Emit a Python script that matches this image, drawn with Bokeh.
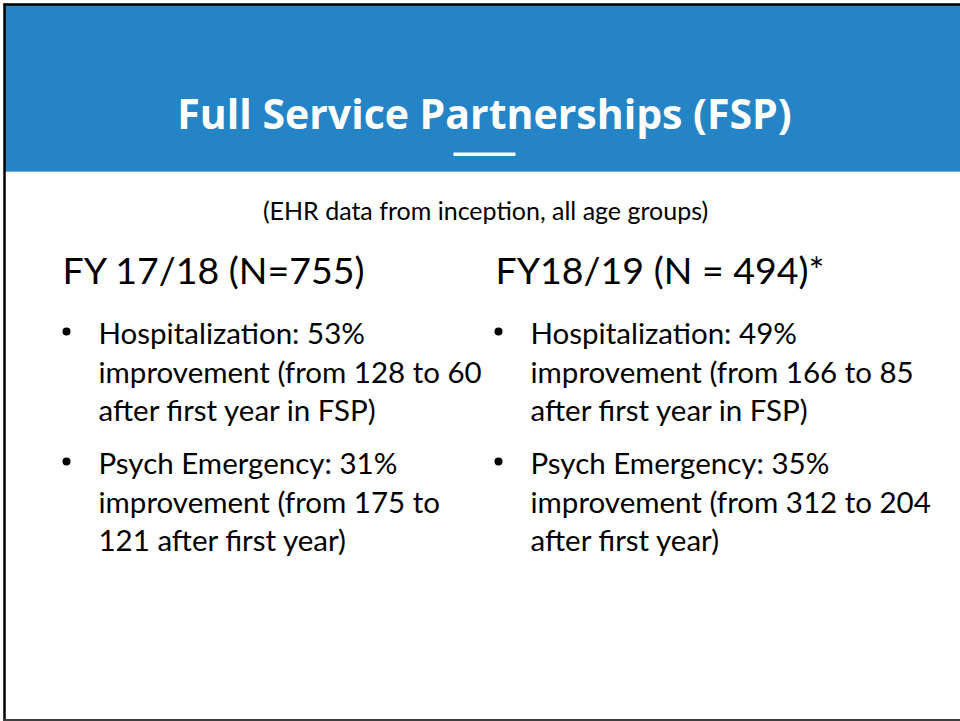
from bokeh.plotting import figure
from bokeh.models import Range1d, ColumnDataSource
from bokeh.core.properties import value
from bokeh.embed import file_html
from bokeh.resources import INLINE

# ---- slide content ----
title = "Full Service Partnerships (FSP)"
subtitle = "(EHR data from inception, all age groups)"
col_heads = ["FY 17/18 (N=755)", "FY18/19 (N = 494)*"]
left_bullets = [
    ["Hospitalization: 53%", "improvement (from 128 to 60", "after first year in FSP)"],
    ["Psych Emergency: 31%", "improvement (from 175 to", "121 after first year)"],
]
right_bullets = [
    ["Hospitalization: 49%", "improvement (from 166 to 85", "after first year in FSP)"],
    ["Psych Emergency: 35%", "improvement (from 312 to 204", "after first year)"],
]

BLUE = "#2584C6"
BODY_FONT = "Lato"
TITLE_FONT = "Open Sans"
SHIFT = 0.37  # baseline correction (fraction of font size) for the svg text

W, H = 960, 721
p = figure(width=W, height=H, x_range=Range1d(0, W), y_range=Range1d(H, 0),
           output_backend="svg", toolbar_location=None, min_border=0)
p.axis.visible = False
p.grid.visible = False
p.outline_line_color = None
p.background_fill_color = "white"
p.border_fill_color = "white"

# header band
p.quad(left=[4], right=[960], top=[4], bottom=[171], fill_color=BLUE, line_color=None)
p.segment(x0=[4], y0=[171], x1=[960], y1=[171], line_color="#6AAEDD", line_width=1)
# frame lines
p.segment(x0=[3, 4, 3], y0=[4, 3, 719.5], x1=[960, 4, 960], y1=[4, 721, 719.5],
          line_color=["black", "black", "#404040"], line_width=[2.5, 2.5, 2])
# title underline
p.quad(left=[453], right=[515], top=[152], bottom=[155.5], fill_color="white", line_color=None)


def base(y, size):
    return y - SHIFT * size


p.text(x=[484], y=[base(128, 41)], text=[title], text_font=value(TITLE_FONT), text_font_style="bold",
       text_font_size="41px", text_color="white", text_align="center", text_baseline="alphabetic")
p.text(x=[485], y=[base(219, 25)], text=[subtitle], text_font=value(BODY_FONT),
       text_font_size="25px", text_color="black", text_align="center", text_baseline="alphabetic")

p.text(x=[62, 495], y=[base(283, 37.5)] * 2, text=col_heads, text_font=value(BODY_FONT),
       text_font_size="37.5px", text_color="black", text_align="left", text_baseline="alphabetic")

xs, ys, ts, bx, by = [], [], [], [], []
for col_x, bullets in ((98, left_bullets), (530, right_bullets)):
    for bi, lines in enumerate(bullets):
        b0 = 343 + bi * 130
        bx.append(col_x - 32)
        by.append(b0 - 12)
        for li, line in enumerate(lines):
            xs.append(col_x)
            ys.append(base(b0 + li * 38.5, 29.5))
            ts.append(line)

src = ColumnDataSource(dict(x=xs, y=ys, t=ts))
p.text(x="x", y="y", text="t", source=src, text_font=value(BODY_FONT),
       text_font_size="29.5px", text_color="black", text_align="left", text_baseline="alphabetic")
p.scatter(x=bx, y=by, size=8, marker="circle", fill_color="black", line_color=None)

open("out.html", "w").write(file_html(p, INLINE))
